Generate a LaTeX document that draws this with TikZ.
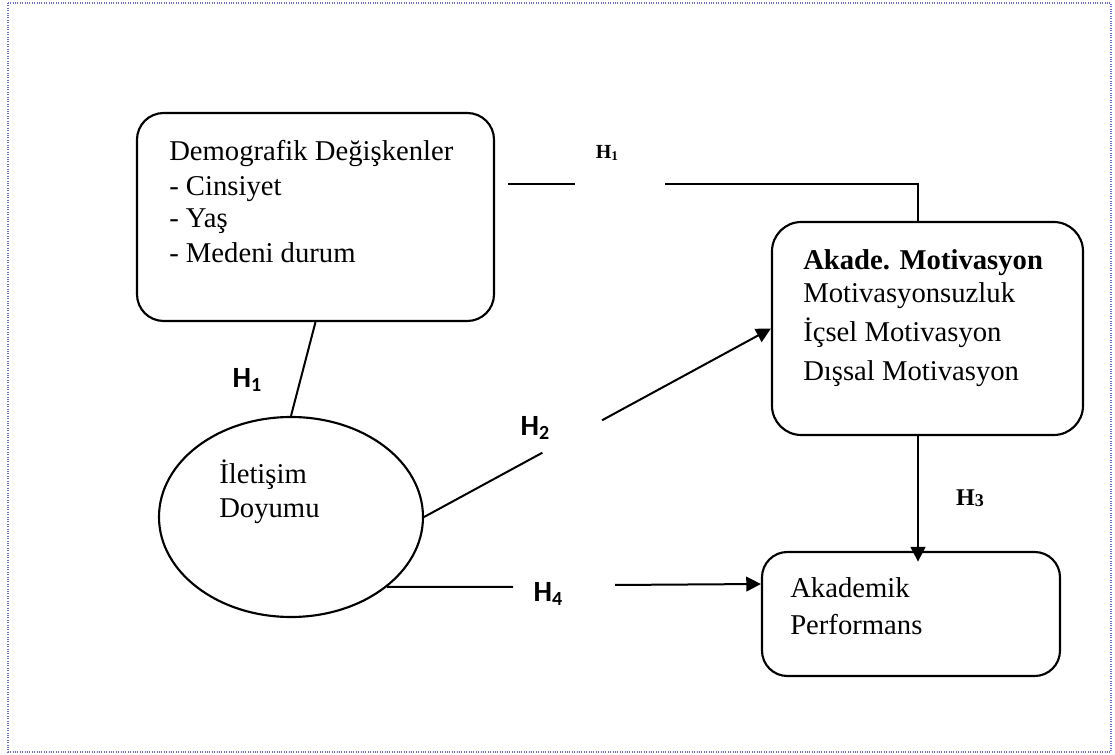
\documentclass[tikz,border=0pt]{standalone}
\usepackage{fontspec}
\setmainfont{Liberation Serif}
\newfontfamily\hsans{Carlito}
\usetikzlibrary{arrows.meta,calc,shapes.geometric}
\definecolor{framecol}{RGB}{105,105,240}
\begin{document}
\begin{tikzpicture}[x=0.75pt,y=-0.75pt,
  box/.style={draw,line width=1.6pt,inner sep=0pt,rectangle},
  txt/.style={anchor=base west,inner sep=0pt,font=\fontsize{21.5pt}{26pt}\selectfont},
  conn/.style={line width=1.5pt},
  arr/.style={line width=1.5pt,-{Triangle[length=11pt,width=11pt]}},
  hs/.style={inner sep=0pt,font=\hsans\bfseries\fontsize{22pt}{26pt}\selectfont},
  hr/.style={inner sep=0pt,font=\bfseries}]
\useasboundingbox (0,0) rectangle (1115,755);
\draw[framecol,densely dotted,line width=0.8pt] (8,3) rectangle (1111,752);

% boxes
\node[box,rounded corners=20pt,minimum width=267.75pt,minimum height=156pt] (demo) at (315.5,217) {};
\node[box,rounded corners=22pt,minimum width=233.25pt,minimum height=159.75pt] (akade) at (927.5,328.5) {};
\node[box,rounded corners=19pt,minimum width=223.5pt,minimum height=93pt] (perf) at (911,614) {};
\node[draw,ellipse,line width=1.6pt,inner sep=0pt,minimum width=198pt,minimum height=150pt] (ell) at (291,517) {};

% texts
\node[txt] (d1) at (169,161) {Demografik Değişkenler};
\node[txt] (d2) at (169,196) {- Cinsiyet};
\node[txt] (d3) at (169,228) {- Yaş};
\node[txt] (d4) at (169,263) {- Medeni durum};

\node[txt,font=\bfseries\fontsize{21.5pt}{26pt}\selectfont] (a1) at (803,270) {Akade. Motivasyon};
\node[txt] (a2) at (803,303) {Motivasyonsuzluk};
\node[txt] (a3) at (803,342) {İçsel Motivasyon};
\node[txt] (a4) at (803,381) {Dışsal Motivasyon};

\node[txt] (p1) at (790,598) {Akademik};
\node[txt] (p2) at (790,634) {Performans};

\node[txt] (e1) at (219,484) {İletişim};
\node[txt] (e2) at (219,518) {Doyumu};

% connectors
\draw[conn] (demo.south) -- (ell.north);

\coordinate (t1) at (508,184);
\coordinate (t2) at (575,184);
\coordinate (t3) at (665,184);
\coordinate (vx) at (918,0);
\draw[conn] (t1) -- (t2);
\draw[conn] (t3) -| (akade.north -| vx);

\coordinate (g1) at ($(ell.east)!0.341!(akade.west)$);
\coordinate (g2) at ($(ell.east)!0.513!(akade.west)$);
\draw[conn] (ell.east) -- (g1);
\draw[arr] (g2) -- (akade.west);

\draw[arr,shorten >=-8pt] (akade.south -| vx) -- (perf.north -| vx);

\coordinate (h4a) at (513,587);
\coordinate (h4b) at (615,585);
\draw[conn] (ell.-36.7) -- (h4a);
\draw[arr] (h4b) -- ([yshift=22.5pt]perf.west);

% labels
\node[hr,font=\bfseries\fontsize{15pt}{18pt}\selectfont] (lh1t) at (607,153) {H\raisebox{-0.25ex}{\fontsize{10pt}{12pt}\selectfont 1}};
\node[hs] (lh1) at (247,380) {H\raisebox{-0.35ex}{\fontsize{15pt}{18pt}\selectfont 1}};
\node[hs] (lh2) at (535,428) {H\raisebox{-0.35ex}{\fontsize{15pt}{18pt}\selectfont 2}};
\node[hr,font=\bfseries\fontsize{18pt}{20pt}\selectfont] (lh3) at (970,498) {H\raisebox{-0.05ex}{\fontsize{13.5pt}{16pt}\selectfont 3}};
\node[hs] (lh4) at (548,594) {H\raisebox{-0.35ex}{\fontsize{15pt}{18pt}\selectfont 4}};
\end{tikzpicture}
\end{document}
